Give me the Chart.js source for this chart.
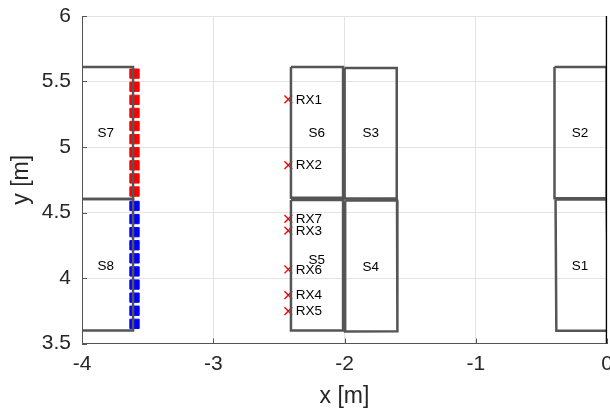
<!DOCTYPE html>
<html>
<head>
<meta charset="utf-8">
<script src="https://cdn.jsdelivr.net/npm/chart.js@4.4.1/dist/chart.umd.min.js"></script>
<style>
  html, body { margin: 0; padding: 0; background: #fff; }
  #wrap { width: 610px; height: 410px; }
</style>
</head>
<body>
<div id="wrap"><canvas id="c" width="610" height="410"></canvas></div>
<script>
// Axis ticks
const xTickValues = [-4, -3, -2, -1, 0];
const xTickLabels = ['-4', '-3', '-2', '-1', '0'];
const yTickValues = [3.5, 4, 4.5, 5, 5.5, 6];
const yTickLabels = ['3.5', '4', '4.5', '5', '5.5', '6'];

// Shelves: corners listed top-left, top-right, bottom-right, bottom-left
const shelfNames = ['S1', 'S2', 'S3', 'S4', 'S5', 'S6', 'S7', 'S8'];
const shelfX = [
  [-0.392, -0.003, 0.012, -0.386],
  [-0.400, -0.003, -0.003, -0.400],
  [-1.999, -1.602, -1.602, -1.999],
  [-1.995, -1.600, -1.597, -1.990],
  [-2.408, -2.011, -2.011, -2.408],
  [-2.408, -2.011, -2.011, -2.408],
  [-4.010, -3.611, -3.611, -4.010],
  [-4.010, -3.611, -3.611, -4.010]
];
const shelfY = [
  [4.600, 4.600, 3.598, 3.598],
  [5.611, 5.611, 4.608, 4.608],
  [5.604, 5.604, 4.606, 4.606],
  [4.592, 4.594, 3.594, 3.592],
  [4.596, 4.596, 3.600, 3.600],
  [5.611, 5.611, 4.612, 4.612],
  [5.611, 5.611, 4.604, 4.604],
  [4.604, 4.604, 3.600, 3.600]
];
const shelfLabelX = [-0.206, -0.206, -1.800, -1.800, -2.212, -2.212, -3.819, -3.819];
const shelfLabelY = [4.090, 5.105, 5.107, 4.080, 4.136, 5.107, 5.107, 4.090];

// Wall along x = 0
const wallX = [0, 0];
const wallY = [3.5, 6];

// Transmitter elements along the left shelves
const redX = [-3.6, -3.6, -3.6, -3.6, -3.6, -3.6, -3.6, -3.6, -3.6, -3.6];
const redY = [5.56, 5.46, 5.36, 5.26, 5.16, 5.06, 4.96, 4.86, 4.76, 4.66];
const blueX = [-3.6, -3.6, -3.6, -3.6, -3.6, -3.6, -3.6, -3.6, -3.6, -3.6];
const blueY = [4.55, 4.45, 4.35, 4.25, 4.15, 4.05, 3.95, 3.85, 3.75, 3.65];

// Receivers
const rxNames = ['RX1', 'RX2', 'RX7', 'RX3', 'RX6', 'RX4', 'RX5'];
const rxX = [-2.428, -2.428, -2.428, -2.428, -2.428, -2.428, -2.428];
const rxY = [5.364, 4.861, 4.452, 4.361, 4.065, 3.869, 3.747];

const FONT = '"Liberation Sans", Arial, Helvetica, sans-serif';
const AXIS_COLOR = '#555555';
const TEXT_COLOR = '#262626';

const pts = (xs, ys) => xs.map((x, i) => ({ x, y: ys[i] }));

const datasets = [];
datasets.push({
  label: 'wall',
  data: pts(wallX, wallY),
  showLine: true,
  borderColor: '#000000',
  borderWidth: 2.5,
  pointRadius: 0
});
shelfNames.forEach((name, i) => {
  const xs = shelfX[i].concat([shelfX[i][0]]);
  const ys = shelfY[i].concat([shelfY[i][0]]);
  datasets.push({
    label: name,
    data: pts(xs, ys),
    showLine: true,
    borderColor: '#555555',
    borderWidth: 2.5,
    pointRadius: 0,
    tension: 0
  });
});
datasets.push({
  label: 'tx upper',
  data: pts(redX, redY),
  showLine: false,
  pointStyle: 'rect',
  pointRadius: 6.6,
  backgroundColor: '#ff0000',
  borderColor: '#ff0000',
  borderWidth: 1
});
datasets.push({
  label: 'tx lower',
  data: pts(blueX, blueY),
  showLine: false,
  pointStyle: 'rect',
  pointRadius: 6.6,
  backgroundColor: '#0000ff',
  borderColor: '#0000ff',
  borderWidth: 1
});
datasets.push({
  label: 'rx',
  data: pts(rxX, rxY),
  showLine: false,
  pointStyle: 'crossRot',
  pointRadius: 5.5,
  borderColor: '#ff0000',
  borderWidth: 1.4
});

// Inward tick marks on the two visible axes
const inwardTicks = {
  id: 'inwardTicks',
  afterDatasetsDraw(chart) {
    const { ctx, chartArea: a, scales: { x, y } } = chart;
    ctx.save();
    ctx.strokeStyle = AXIS_COLOR;
    ctx.lineWidth = 1;
    ctx.beginPath();
    xTickValues.forEach(v => {
      const px = Math.round(x.getPixelForValue(v)) + 0.5;
      ctx.moveTo(px, a.bottom);
      ctx.lineTo(px, a.bottom - 5);
    });
    yTickValues.forEach(v => {
      const py = Math.round(y.getPixelForValue(v)) + 0.5;
      ctx.moveTo(a.left, py);
      ctx.lineTo(a.left + 5, py);
    });
    ctx.stroke();
    ctx.restore();
  }
};

// Shelf names and receiver names
const annotations = {
  id: 'annotations',
  afterDatasetsDraw(chart) {
    const { ctx, scales: { x, y } } = chart;
    ctx.save();
    ctx.fillStyle = '#000000';
    ctx.font = '13.5px ' + FONT;
    ctx.textAlign = 'center';
    ctx.textBaseline = 'middle';
    shelfNames.forEach((name, i) => {
      ctx.fillText(name, x.getPixelForValue(shelfLabelX[i]), y.getPixelForValue(shelfLabelY[i]));
    });
    ctx.textAlign = 'left';
    rxNames.forEach((name, i) => {
      ctx.fillText(name, x.getPixelForValue(rxX[i]) + 7.5, y.getPixelForValue(rxY[i]) + 0.5);
    });
    ctx.restore();
  }
};

const noPad = s => { s.paddingLeft = 0; s.paddingRight = 0; s.paddingTop = 0; s.paddingBottom = 0; };

new Chart(document.getElementById('c'), {
  type: 'scatter',
  data: { datasets },
  options: {
    responsive: false,
    devicePixelRatio: 1,
    animation: false,
    events: [],
    layout: { autoPadding: false, padding: { top: 16, right: 3, left: 0, bottom: 0 } },
    plugins: { legend: { display: false }, tooltip: { enabled: false } },
    scales: {
      x: {
        type: 'linear',
        min: -4,
        max: 0,
        afterBuildTicks: s => { s.ticks = xTickValues.map(v => ({ value: v })); },
        afterFit: s => { s.height = 66.5; noPad(s); },
        ticks: {
          callback: (v, i) => xTickLabels[i],
          font: { family: FONT, size: 21 },
          color: TEXT_COLOR,
          padding: 8.5,
          maxRotation: 0
        },
        grid: { color: '#e3e3e3', lineWidth: 1, drawTicks: false },
        border: { display: true, color: AXIS_COLOR, width: 1 },
        title: {
          display: true,
          text: 'x [m]',
          font: { family: FONT, size: 23 },
          color: TEXT_COLOR,
          padding: { top: 0, bottom: 0 }
        }
      },
      y: {
        type: 'linear',
        min: 3.5,
        max: 6,
        afterBuildTicks: s => { s.ticks = yTickValues.map(v => ({ value: v })); },
        afterFit: s => { s.width = 82; noPad(s); },
        ticks: {
          callback: (v, i) => yTickLabels[i],
          font: { family: FONT, size: 21 },
          color: TEXT_COLOR,
          padding: 11
        },
        grid: { color: '#e3e3e3', lineWidth: 1, drawTicks: false },
        border: { display: true, color: AXIS_COLOR, width: 1 },
        title: {
          display: true,
          text: 'y [m]',
          font: { family: FONT, size: 23 },
          color: TEXT_COLOR,
          padding: { top: 8, bottom: 0 }
        }
      }
    }
  },
  plugins: [inwardTicks, annotations]
});
</script>
</body>
</html>
